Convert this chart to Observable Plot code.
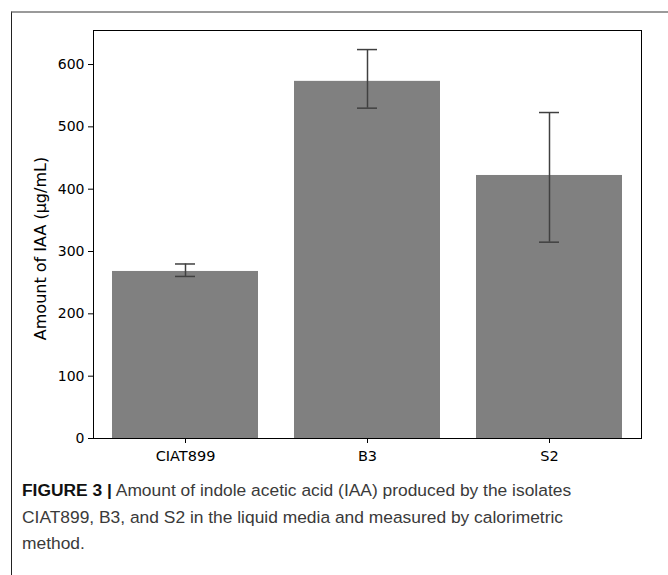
<!DOCTYPE html>
<html>
<head>
<meta charset="utf-8">
<script src="https://cdn.jsdelivr.net/npm/d3@7"></script>
<script src="https://cdn.jsdelivr.net/npm/@observablehq/plot@0.6"></script>
<style>
  html, body { margin: 0; padding: 0; background: white; }
  #wrap { position: relative; width: 668px; height: 575px; overflow: hidden; background: white; }
  #box { position: absolute; left: 11px; top: 11px; right: -5px; bottom: -5px;
         border-top: 2px solid #9a9a9a; border-left: 1px solid #222; }
  #chart { position: absolute; left: 0; top: 0; }
  #caption { position: absolute; left: 22px; top: 477px; font-family: "Liberation Sans", Arial, sans-serif;
             font-size: 17.4px; line-height: 26.5px; color: #3a3a3a; white-space: nowrap; }
  #caption b { color: #111; }
</style>
</head>
<body>
<div id="wrap">
  <div id="box"></div>
  <div id="chart"></div>
  <div id="caption"><b>FIGURE 3 |</b> Amount of indole acetic acid (IAA) produced by the isolates<br>CIAT899, B3, and S2 in the liquid media and measured by calorimetric<br>method.</div>
</div>
<script>
const categories = ["CIAT899", "B3", "S2"];
const means = [268, 573, 422];
const errLow = [260, 530, 315];
const errHigh = [280, 624, 523];
const yTicks = [0, 100, 200, 300, 400, 500, 600];
const yLabel = "Amount of IAA (\u03bcg/mL)";

const data = categories.map((name, i) => ({name, mean: means[i], low: errLow[i], high: errHigh[i]}));

const errColor = "#404040";
const chart = Plot.plot({
  width: 668,
  height: 470,
  marginLeft: 93,
  marginRight: 27,
  marginTop: 30,
  marginBottom: 32,
  style: {fontFamily: "DejaVu Sans", fontSize: "14px", color: "black", background: "transparent"},
  x: {domain: categories, paddingInner: 0.2, paddingOuter: 0.1, label: null},
  y: {domain: [0, 654.6], label: null},
  marks: [
    Plot.barY(data, {x: "name", y: "mean", fill: "#808080"}),
    Plot.ruleX(data, {x: "name", y1: "low", y2: "high", stroke: errColor, strokeWidth: 1.5}),
    Plot.tickY(data, {x: "name", y: "low", stroke: errColor, strokeWidth: 1.5, insetLeft: 63, insetRight: 63}),
    Plot.tickY(data, {x: "name", y: "high", stroke: errColor, strokeWidth: 1.5, insetLeft: 63, insetRight: 63}),
    Plot.frame({stroke: "black", strokeWidth: 1}),
    Plot.axisX({tickSize: 5, tickPadding: 7, label: null, fontSize: 14.5}),
    Plot.axisY({ticks: yTicks, tickSize: 5, tickPadding: 4, fontSize: 14, label: null}),
    Plot.text([yLabel], {text: d => d, frameAnchor: "left", textAnchor: "middle", lineAnchor: "middle",
                         rotate: -90, dx: -53, dy: 14, fontSize: 16, fill: "black"})
  ]
});
document.getElementById("chart").appendChild(chart);
</script>
</body>
</html>
